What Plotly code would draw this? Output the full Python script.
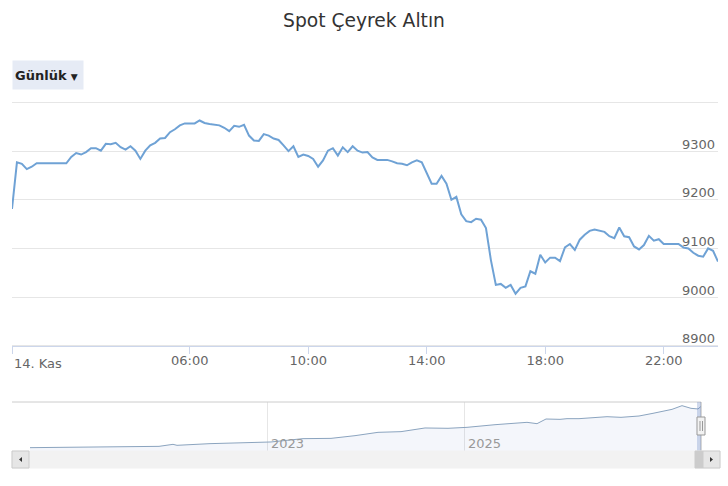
import plotly.graph_objects as go
import pandas as pd

# ---------------- data ----------------
chart_title = "Spot Çeyrek Altın"
period_label = "Günlük"
series_start = "2025-11-14 00:00"
series_step = "10min"

prices = [
    9181, 9277, 9274, 9263, 9268, 9275, 9275, 9275, 9275, 9275,
    9275, 9275, 9288, 9296, 9293, 9298, 9306, 9306, 9301, 9315,
    9314, 9317, 9308, 9303, 9310, 9301, 9284, 9301, 9312, 9317,
    9326, 9327, 9339, 9345, 9353, 9357, 9357, 9357, 9363, 9358,
    9356, 9354, 9353, 9348, 9341, 9352, 9350, 9354, 9332, 9322,
    9321, 9335, 9332, 9326, 9323, 9312, 9300, 9310, 9288, 9293,
    9290, 9284, 9268, 9281, 9301, 9306, 9291, 9308, 9298, 9310,
    9301, 9297, 9298, 9287, 9282, 9282, 9282, 9279, 9275, 9274,
    9271, 9277, 9281, 9277, 9256, 9233, 9233, 9249, 9233, 9200,
    9206, 9170, 9156, 9154, 9161, 9159, 9142, 9076, 9025, 9027,
    9019, 9025, 9007, 9019, 9022, 9053, 9048, 9087, 9071, 9081,
    9081, 9074, 9102, 9109, 9097, 9118, 9128, 9136, 9139, 9136,
    9134, 9125, 9121, 9143, 9125, 9123, 9104, 9098, 9107, 9126,
    9116, 9119, 9109, 9109, 9109, 9109, 9102, 9100, 9091, 9085,
    9083, 9100, 9095, 9073,
]

x_tick_times = ["2025-11-14 00:00", "2025-11-14 06:00", "2025-11-14 10:00",
                "2025-11-14 14:00", "2025-11-14 18:00", "2025-11-14 22:00"]
x_tick_labels = ["14. Kas", "06:00", "10:00", "14:00", "18:00", "22:00"]

y_tick_values = [8900, 9000, 9100, 9200, 9300, 9400]
y_tick_labels = ["8900", "9000", "9100", "9200", "9300", ""]
y_min, y_max = 8900, 9400

# navigator (long-term history, ordinal positions)
nav_pos = [1, 46, 88, 130, 144, 148, 181, 218, 242, 274, 302, 326, 349, 372,
           396, 419, 438, 466, 484, 498, 508, 517, 531, 538, 550, 578, 592,
           610, 624, 643, 653, 662, 669, 672]
nav_val = [680, 750, 750, 950, 1360, 1160, 1500, 1770, 1840, 2520, 2580, 3130,
           3810, 3950, 4700, 4630, 4830, 5370, 5580, 5850, 5580, 6530, 6460,
           6600, 6600, 7000, 6870, 7140, 7690, 8500, 9250, 8710, 8580, 9100]
nav_tick_pos = [238, 435]
nav_tick_labels = ["2023", "2025"]

# ---------------- figure ----------------
W, H = 728, 486
def fx(p):
    return p / W
def fy(p):
    return 1 - p / H

times = pd.date_range(series_start, periods=len(prices), freq=series_step)

# main plot: y_max at 102.5 px, y_min at 345.7 px; pad the range so edge
# gridlines/labels are not dropped, and extend the domain to keep the scale
TOP_PX, BOT_PX = 102.5, 345.7
PAD = 16
px_per_unit = (BOT_PX - TOP_PX) / (y_max - y_min)
dom_top = TOP_PX - PAD * px_per_unit
dom_bot = BOT_PX + PAD * px_per_unit

FONT = "DejaVu Sans"
fig = go.Figure()
fig.add_trace(go.Scatter(
    x=times, y=prices, mode="lines",
    line=dict(color="#6fa2d5", width=2),
    xaxis="x", yaxis="y", name=chart_title,
))
fig.add_trace(go.Scatter(
    x=nav_pos, y=nav_val, mode="lines", fill="tozeroy",
    fillcolor="rgba(102,133,194,0.07)",
    line=dict(color="#8ba4bf", width=1),
    xaxis="x2", yaxis="y2", hoverinfo="skip",
))

shapes = []
# navigator outline
shapes.append(dict(type="line", xref="paper", yref="paper",
                   x0=fx(12), x1=fx(701), y0=fy(402), y1=fy(402),
                   line=dict(color="#cccccc", width=1)))
shapes.append(dict(type="line", xref="paper", yref="paper",
                   x0=fx(701), x1=fx(701), y0=fy(402), y1=fy(451),
                   line=dict(color="#b0b0b0", width=1)))
# selected range mask
shapes.append(dict(type="rect", xref="paper", yref="paper",
                   x0=fx(697), x1=fx(701), y0=fy(451), y1=fy(402),
                   fillcolor="rgba(102,133,194,0.3)", line=dict(width=0)))
# scrollbar track
shapes.append(dict(type="rect", xref="paper", yref="paper",
                   x0=fx(12), x1=fx(720), y0=fy(468), y1=fy(451),
                   fillcolor="#f2f2f2", line=dict(color="#f2f2f2", width=1)))
# scrollbar thumb
shapes.append(dict(type="rect", xref="paper", yref="paper",
                   x0=fx(695), x1=fx(703), y0=fy(468), y1=fy(451),
                   fillcolor="#cccccc", line=dict(color="#cccccc", width=1)))
# scrollbar buttons
for a, b in [(12, 29), (703, 720)]:
    shapes.append(dict(type="rect", xref="paper", yref="paper",
                       x0=fx(a), x1=fx(b), y0=fy(468), y1=fy(451),
                       fillcolor="#e6e6e6", line=dict(color="#cccccc", width=1)))
# arrows
shapes.append(dict(type="path", xref="paper", yref="paper",
                   path=f"M {fx(19)} {fy(459.5)} L {fx(22)} {fy(457)} L {fx(22)} {fy(462)} Z",
                   fillcolor="#333333", line=dict(width=0)))
shapes.append(dict(type="path", xref="paper", yref="paper",
                   path=f"M {fx(713)} {fy(459.5)} L {fx(710)} {fy(457)} L {fx(710)} {fy(462)} Z",
                   fillcolor="#333333", line=dict(width=0)))
# navigator handle
shapes.append(dict(type="rect", xref="paper", yref="paper",
                   x0=fx(697), x1=fx(705), y0=fy(435), y1=fy(417),
                   fillcolor="#f2f2f2", line=dict(color="#999999", width=1)))
for xv in (700, 702.5):
    shapes.append(dict(type="line", xref="paper", yref="paper",
                       x0=fx(xv), x1=fx(xv), y0=fy(421), y1=fy(431),
                       line=dict(color="#999999", width=1)))

annotations = [
    dict(text=x_tick_labels[0], xref="x", yref="paper",
         x=x_tick_times[0], y=fy(363), xanchor="left", yanchor="middle",
         showarrow=False, font=dict(family=FONT, size=13, color="#666666")),
    dict(text=f"<b>{period_label}</b> <span style='font-size:9px'>\u25bc</span>",
         xref="paper", yref="paper",
         x=fx(12), y=fy(60), xanchor="left", yanchor="top",
         width=66, height=24, align="left", borderpad=2,
         bgcolor="#e6ebf5", showarrow=False,
         font=dict(family=FONT, size=13, color="#222222")),
]

fig.update_layout(
    width=W, height=H,
    margin=dict(l=0, r=0, t=0, b=0),
    paper_bgcolor="white", plot_bgcolor="white",
    showlegend=False,
    font=dict(family=FONT, size=13, color="#666666"),
    title=dict(text=chart_title, x=0.5, y=fy(20), xanchor="center",
               yanchor="middle", font=dict(family=FONT, size=18.7, color="#333333")),
    xaxis=dict(
        domain=[fx(12), fx(718)], anchor="free", position=fy(BOT_PX),
        type="date", range=[times[0], times[-1]],
        tickmode="array", tickvals=x_tick_times,
        ticktext=[""] + x_tick_labels[1:],
        ticks="outside", ticklen=7, tickcolor="#ccd6eb",
        ticklabelstandoff=-4,
        showline=True, linecolor="#ccd6eb", linewidth=1,
        showgrid=False, zeroline=False,
        tickfont=dict(family=FONT, size=13, color="#666666"),
    ),
    yaxis=dict(
        domain=[fy(dom_bot), fy(dom_top)], anchor="x", side="right",
        range=[y_min - PAD, y_max + PAD], tickmode="array",
        tickvals=y_tick_values, ticktext=y_tick_labels,
        ticklabelposition="inside", ticklabelshift=-7,
        showgrid=True, gridcolor="#e6e6e6", gridwidth=1,
        zeroline=False, showline=False, ticks="",
        tickfont=dict(family=FONT, size=13, color="#666666"),
    ),
    xaxis2=dict(
        domain=[fx(29), fx(701)], anchor="y2", range=[0, 672],
        tickmode="array", tickvals=nav_tick_pos, ticktext=nav_tick_labels,
        ticklabelposition="inside right", ticks="", ticklabelstandoff=-6,
        ticklabelshift=4,
        showgrid=True, gridcolor="#e6e6e6", zeroline=False, showline=False,
        tickfont=dict(family=FONT, size=13, color="#999999"),
    ),
    yaxis2=dict(
        domain=[fy(451), fy(402)], anchor="x2", range=[0, 10000],
        showticklabels=False, showgrid=False, zeroline=False, showline=False,
    ),
    shapes=shapes,
    annotations=annotations,
)

fig.write_html("out.html", config={"displayModeBar": False},
               post_script="document.body.style.margin='0';document.body.style.padding='0';")
